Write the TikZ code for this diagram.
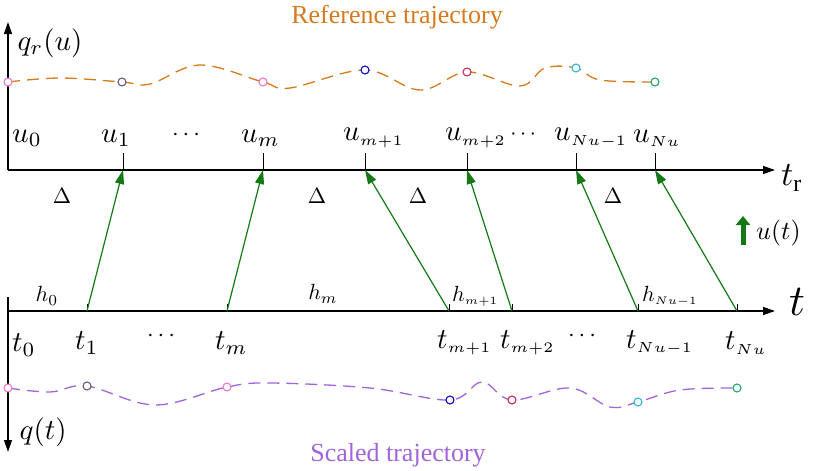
\documentclass[tikz,border=0pt]{standalone}
\usepackage{fontspec}
\setmainfont{Liberation Serif}
\usepackage{amsmath}
\usepackage{xcolor}
\usetikzlibrary{arrows.meta}
\definecolor{refc}{RGB}{214,122,28}
\definecolor{scac}{RGB}{160,100,220}
\definecolor{arrc}{RGB}{20,120,20}
\definecolor{pnk}{RGB}{240,120,200}
\definecolor{gry}{RGB}{100,90,130}
\definecolor{blu}{RGB}{10,10,200}
\definecolor{crm}{RGB}{210,40,90}
\definecolor{cyn}{RGB}{50,180,220}
\definecolor{grn}{RGB}{30,170,100}
\newcommand{\lbm}[2][2.9]{\scalebox{#1}{$#2$}}
\newcommand{\sbs}[1]{{\scriptscriptstyle #1}}
\tikzset{
	axis/.style={line width=1.2pt,-{Triangle[length=12pt,width=8pt]}},
	map/.style={arrc,line width=1.2pt,-{Triangle[length=14pt,width=9pt]}},
	pt/.style={circle,draw=#1,fill=white,line width=1.1pt,inner sep=0pt,minimum size=8pt},
}
\begin{document}
\begin{tikzpicture}[x=1pt,y=-1pt]
	\useasboundingbox (0,0) rectangle (820,471);
	% reference axis
	\coordinate (o1) at (8,170);
	\draw[axis] (o1) -- (775,170);
	\draw[axis] (o1) -- (8,22);
	\node[anchor=west] at (14,43) {\lbm{q_r(u)}};
	\node at (792,178) {\lbm[3.4]{t_{\mathrm{r}}}};
	\node[refc,font=\fontsize{26}{26}\selectfont] at (397,17) {Reference trajectory};
	% scaled axis
	\coordinate (o2) at (8,311);
	\draw[axis] (o2) -- (775,311);
	\draw[axis] (8,297) -- (8,452);
	\node[anchor=west] at (16,432) {\lbm{q(t)}};
	\node at (797,302) {\lbm[4.4]{t}};
	\node[scac,font=\fontsize{26}{26}\selectfont] at (398,455) {Scaled trajectory};
	% ticks on the reference axis
	\foreach \n/\x/\l in {u1/123/{u_1},um/263/{u_m},ua/365/{u_{\sbs{m{+}1}}},ub/467/{u_{\sbs{m{+}2}}},uc/576/{u_{\sbs{Nu{-}1}}},ud/655/{u_{\sbs{Nu}}}} {
		\coordinate (\n) at (\x,170);
		\draw[line width=1pt] (\x,153) -- (\n);
		\node[anchor=west,inner sep=0pt] at (\x-22,138) {\lbm{\l}};
	}
	\node[anchor=west,inner sep=0pt] at (12,138) {\lbm{u_0}};
	\node at (188,135) {\lbm[2.4]{\cdots}};
	\node at (525,135) {\lbm[2.2]{\cdots}};
	\foreach \x in {62,317,418,613}
		\node at (\x,196) {\lbm[2.2]{\Delta}};
	% ticks on the scaled axis
	\foreach \n/\x/\l in {t1/87/{t_1},tm/227/{t_m},ta/449/{t_{\sbs{m{+}1}}},tb/512/{t_{\sbs{m{+}2}}},tc/638/{t_{\sbs{Nu{-}1}}},td/737/{t_{\sbs{Nu}}}} {
		\coordinate (\n) at (\x,311);
		\draw[line width=1pt] (\x,304) -- (\n);
		\node[anchor=west,inner sep=0pt] at (\x-12,343) {\lbm{\l}};
	}
	\node[anchor=west,inner sep=0pt] at (12,345) {\lbm{t_0}};
	\node at (163,336) {\lbm[2.4]{\cdots}};
	\node at (584,336) {\lbm[2.4]{\cdots}};
	\node at (47,296) {\lbm[2.2]{h_0}};
	\node at (323,294) {\lbm[2.2]{h_m}};
	\node[anchor=west,inner sep=0pt] at (452,296) {\lbm[2.2]{h_{\sbs{m{+}1}}}};
	\node[anchor=west,inner sep=0pt] at (642,296) {\lbm[2.2]{h_{\sbs{Nu{-}1}}}};
	% mapping arrows
	\foreach \a/\b in {t1/u1,tm/um,ta/ua,tb/ub,tc/uc,td/ud}
		\draw[map] (\a) -- (\b);
	\coordinate (ua1) at (743,245);
	\coordinate (ua2) at (743,216);
	\draw[arrc,line width=5pt,-{Triangle[length=9pt,width=14pt]}] (ua1) -- (ua2);
	\node[anchor=west,inner sep=0pt] at (756,233) {\lbm[2.6]{u(t)}};
	% trajectories
	\draw[refc,line width=1.3pt,dash pattern=on 12pt off 7pt] plot[smooth,tension=0.6] coordinates {
		(8,82) (60,78) (122,82) (150,84) (200,65) (263,82) (290,88) (365,70) (420,90) (467,72) (520,86) (545,68) (576,68) (600,80) (655,82)};
	\draw[scac,line width=1.3pt,dash pattern=on 12pt off 7pt] plot[smooth,tension=0.6] coordinates {
		(8,388) (50,392) (87,386) (155,405) (227,387) (270,383) (370,388) (450,400) (482,382) (512,400) (570,388) (610,407) (638,402) (680,390) (737,388)};
	\foreach \n/\x/\y/\c in {r0/8/82/pnk,r1/122/82/gry,rm/263/82/pnk,ra/365/70/blu,rb/467/72/crm,rc/576/68/cyn,rd/655/82/grn,
		s0/8/388/pnk,s1/87/386/gry,sm/227/387/pnk,sa/450/400/blu,sb/512/400/crm,sc/638/402/cyn,sd/737/388/grn}
		\node[pt=\c] (\n) at (\x,\y) {};
\end{tikzpicture}
\end{document}
